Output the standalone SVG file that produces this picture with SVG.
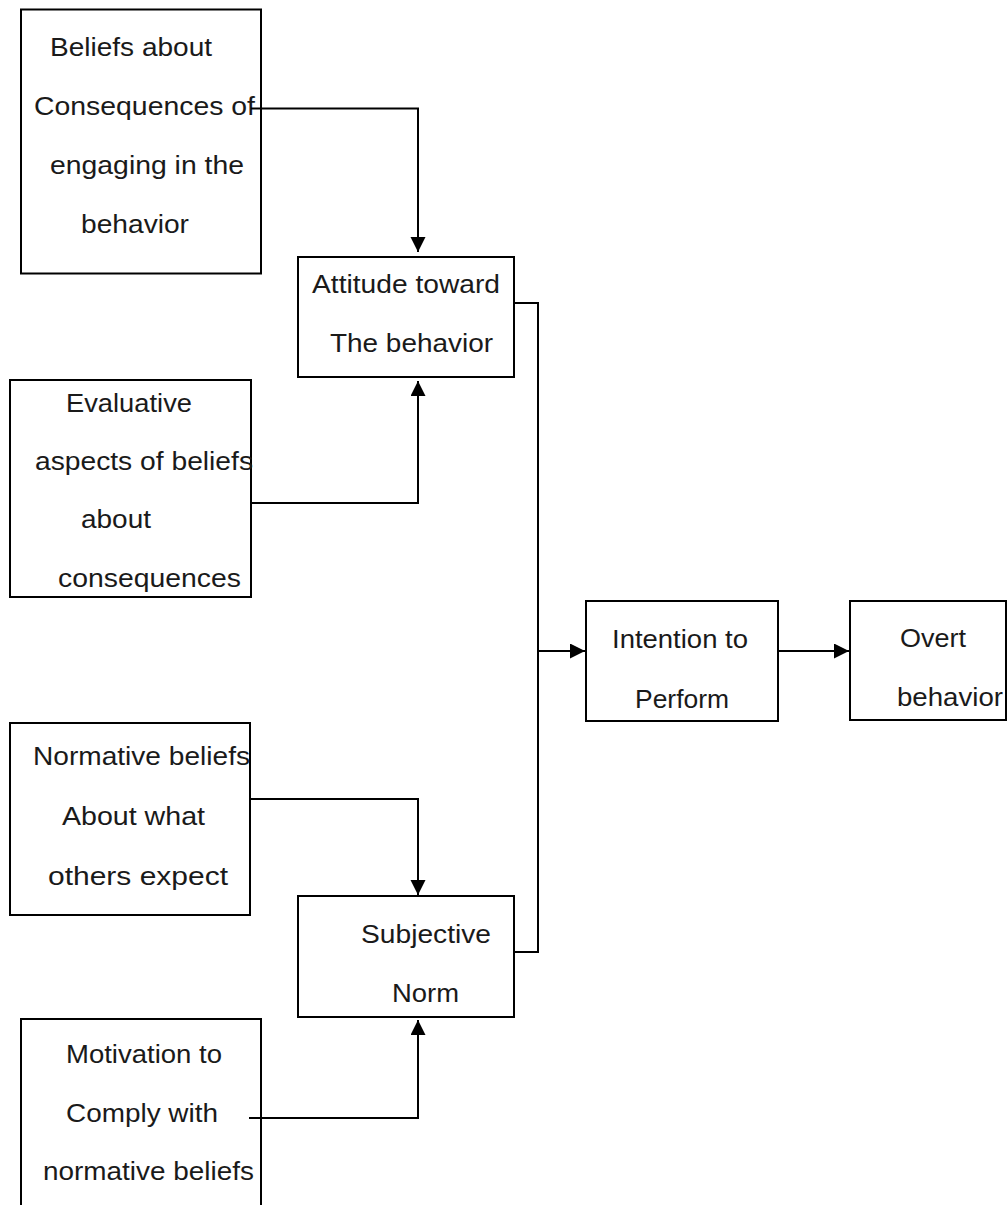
<svg xmlns="http://www.w3.org/2000/svg" width="1007" height="1205" viewBox="0 0 1007 1205">
  <style>
    .box { fill: #ffffff; stroke: #000000; stroke-width: 2; }
    .lbl { font-family: "Liberation Sans", Arial, sans-serif; font-size: 25px; fill: #1a1a1a; }
    .wire { fill: none; stroke: #000000; stroke-width: 2; }
  </style>
  <defs>
    <marker id="arrow" markerUnits="userSpaceOnUse" markerWidth="16" markerHeight="16" refX="15" refY="7.5" orient="auto">
      <path d="M0,0 L15,7.5 L0,15 Z" fill="#000000"/>
    </marker>
  </defs>
  <rect width="1007" height="1205" fill="#ffffff"/>

  <!-- beliefs about consequences -->
  <g id="beliefs">
    <rect class="box" x="21" y="9.5" width="240" height="264"/>
    <text class="lbl" x="50" y="56" textLength="162" lengthAdjust="spacingAndGlyphs">Beliefs about</text>
    <text class="lbl" x="34" y="115" textLength="221" lengthAdjust="spacingAndGlyphs">Consequences of</text>
    <text class="lbl" x="50" y="174" textLength="194" lengthAdjust="spacingAndGlyphs">engaging in the</text>
    <text class="lbl" x="81" y="233" textLength="108" lengthAdjust="spacingAndGlyphs">behavior</text>
  </g>

  <!-- attitude toward the behavior -->
  <g id="attitude">
    <rect class="box" x="298" y="257" width="216" height="120"/>
    <text class="lbl" x="312" y="293" textLength="188" lengthAdjust="spacingAndGlyphs">Attitude toward</text>
    <text class="lbl" x="330" y="352" textLength="163" lengthAdjust="spacingAndGlyphs">The behavior</text>
  </g>

  <!-- evaluative aspects -->
  <g id="evaluative">
    <rect class="box" x="10" y="380" width="241" height="217"/>
    <text class="lbl" x="66" y="412" textLength="126" lengthAdjust="spacingAndGlyphs">Evaluative</text>
    <text class="lbl" x="35" y="470" textLength="218" lengthAdjust="spacingAndGlyphs">aspects of beliefs</text>
    <text class="lbl" x="81" y="528" textLength="70" lengthAdjust="spacingAndGlyphs">about</text>
    <text class="lbl" x="58" y="587" textLength="183" lengthAdjust="spacingAndGlyphs">consequences</text>
  </g>

  <!-- intention to perform -->
  <g id="intention">
    <rect class="box" x="586" y="601" width="192" height="120"/>
    <text class="lbl" x="612" y="648" textLength="136" lengthAdjust="spacingAndGlyphs">Intention to</text>
    <text class="lbl" x="635" y="708" textLength="94" lengthAdjust="spacingAndGlyphs">Perform</text>
  </g>

  <!-- overt behavior -->
  <g id="overt">
    <rect class="box" x="850" y="601" width="156" height="119"/>
    <text class="lbl" x="900" y="647" textLength="66" lengthAdjust="spacingAndGlyphs">Overt</text>
    <text class="lbl" x="897" y="706" textLength="106" lengthAdjust="spacingAndGlyphs">behavior</text>
  </g>

  <!-- normative beliefs -->
  <g id="normative">
    <rect class="box" x="10" y="723" width="240" height="192"/>
    <text class="lbl" x="33" y="765" textLength="217" lengthAdjust="spacingAndGlyphs">Normative beliefs</text>
    <text class="lbl" x="62" y="825" textLength="143" lengthAdjust="spacingAndGlyphs">About what</text>
    <text class="lbl" x="48" y="885" textLength="180" lengthAdjust="spacingAndGlyphs">others expect</text>
  </g>

  <!-- subjective norm -->
  <g id="subjective">
    <rect class="box" x="298" y="896" width="216" height="121"/>
    <text class="lbl" x="361" y="943" textLength="130" lengthAdjust="spacingAndGlyphs">Subjective</text>
    <text class="lbl" x="392" y="1002" textLength="67" lengthAdjust="spacingAndGlyphs">Norm</text>
  </g>

  <!-- motivation to comply -->
  <g id="motivation">
    <rect class="box" x="21" y="1019" width="240" height="200"/>
    <text class="lbl" x="66" y="1063" textLength="156" lengthAdjust="spacingAndGlyphs">Motivation to</text>
    <text class="lbl" x="66" y="1122" textLength="152" lengthAdjust="spacingAndGlyphs">Comply with</text>
    <text class="lbl" x="43" y="1180" textLength="211" lengthAdjust="spacingAndGlyphs">normative beliefs</text>
  </g>

  <!-- connectors -->
  <g id="connectors">
    <path class="wire" d="M251,108.5 H418 V252" marker-end="url(#arrow)"/>
    <path class="wire" d="M251,503 H418 V381" marker-end="url(#arrow)"/>
    <path class="wire" d="M514,303 H538 V952 H514"/>
    <path class="wire" d="M538,651 H585" marker-end="url(#arrow)"/>
    <path class="wire" d="M778,651 H849" marker-end="url(#arrow)"/>
    <path class="wire" d="M250,799 H418 V895" marker-end="url(#arrow)"/>
    <path class="wire" d="M249,1118 H418 V1020" marker-end="url(#arrow)"/>
  </g>
</svg>
